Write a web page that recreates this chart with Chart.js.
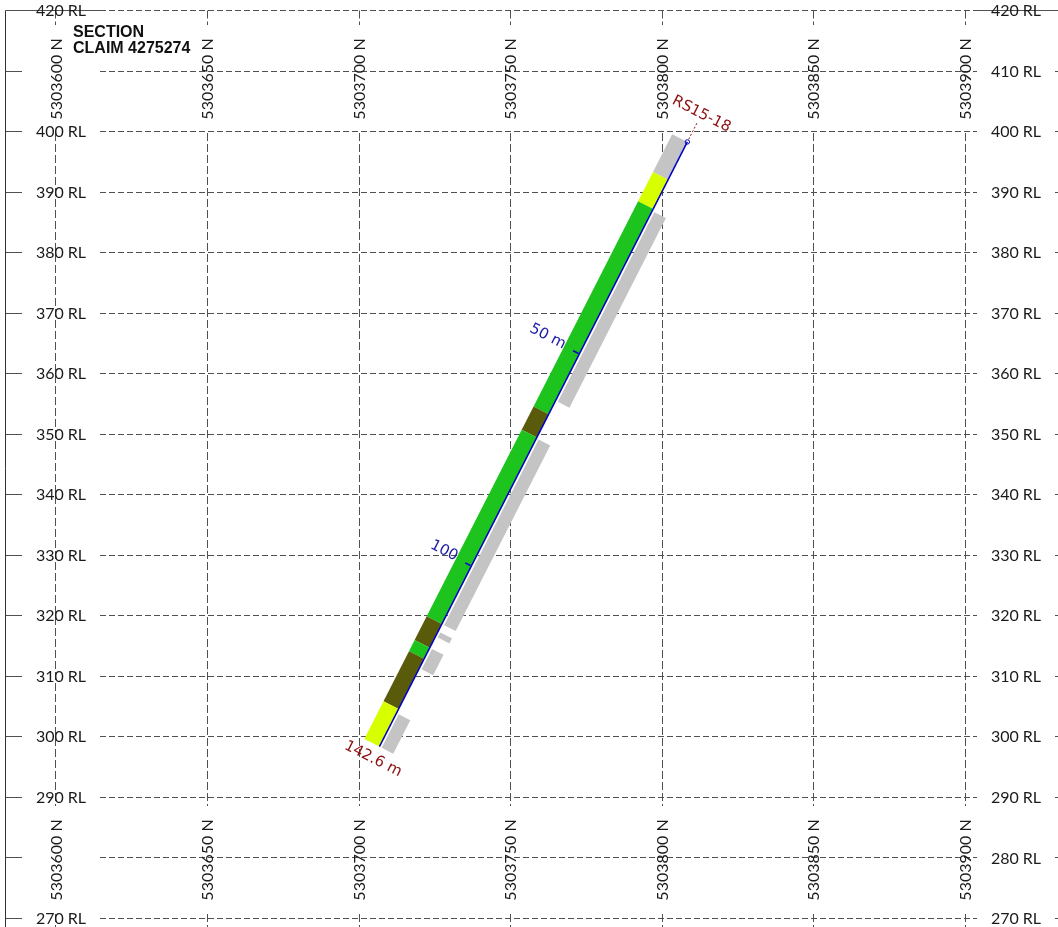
<!DOCTYPE html>
<html>
<head>
<meta charset="utf-8">
<script src="https://cdn.jsdelivr.net/npm/chart.js@4.4.0/dist/chart.umd.min.js"></script>
<style>
  html, body { margin: 0; padding: 0; background: #ffffff; }
  #wrap { width: 1058px; height: 927px; position: relative; }
</style>
</head>
<body>
<div id="wrap"><canvas id="c"></canvas></div>
<script>
// ---------------- DATA ----------------
const northingTicks = [5303600, 5303650, 5303700, 5303750, 5303800, 5303850, 5303900];
const rlTicks = [420, 410, 400, 390, 380, 370, 360, 350, 340, 330, 320, 310, 300, 290, 280, 270];
const titleLines = ['SECTION', 'CLAIM 4275274'];

const holeId = 'RS15-18';
const holeLength = 142.6;          // metres along hole
const collarNorth = 5303808.5;
const collarRL = 398.2;
const endNorth = 5303706.9;
const endRL = 298.3;

// lithology column (depth from / to, m)
const lithFrom = [0, 8.9, 15.8, 64.2, 69.7, 113.7, 119.3, 121.9, 133.7];
const lithTo   = [8.9, 15.8, 64.2, 69.7, 113.7, 119.3, 121.9, 133.7, 142.6];
const lithCode = ['NC', 'YL', 'GN', 'BR', 'GN', 'BR', 'GN', 'BR', 'YL'];

// sampled intervals (depth from / to, m)
const sampleFrom = [16.3, 69.9, 115.4, 119.3, 134.7];
const sampleTo   = [61.0, 113.7, 116.6, 124.1, 142.6];

// depth markers
const depthMarks = [50, 100];
const depthMarkLabels = ['50 m', '100'];

// ---------------- STYLES ----------------
const lithColors = { NC: '#c4c4c4', YL: '#d8ff00', GN: '#1dc41d', BR: '#5a5a0b' };
const sampleColor = '#c4c4c4';
const GRID = '#505050';
const TEXT = '#1a1a1a';
const TRACE = '#0000c8';
const MARK = '#1a1aa8';
const HOLE_TXT = '#8c1010';
const AXIS_FONT = '16px Lato, "Liberation Sans", sans-serif';
const HOLE_FONT = '15px "DejaVu Sans", sans-serif';
const TITLE_FONT = 'bold 16px "Liberation Sans", Arial, sans-serif';

const FRAME_L = 5.5;
const RL_L = 61, RL_R = 1016, RL_GAP = 39;
const N_TOP = 79, N_BOT = 860, N_GAP = 54;
const COL_IN = -17, COL_OUT = 0;
const BAR_IN = 2.5, BAR_OUT = 15.5;

function seg(c, x1, y1, x2, y2) { c.beginPath(); c.moveTo(x1, y1); c.lineTo(x2, y2); c.stroke(); }

function holeGeom(chart) {
  const xs = chart.scales.x, ys = chart.scales.y;
  const a = { x: xs.getPixelForValue(collarNorth), y: ys.getPixelForValue(collarRL) };
  const b = { x: xs.getPixelForValue(endNorth), y: ys.getPixelForValue(endRL) };
  const len = Math.hypot(b.x - a.x, b.y - a.y);
  const d = { x: (b.x - a.x) / len, y: (b.y - a.y) / len };
  const nr = { x: d.y, y: -d.x };
  const at = (m, off, along) => {
    const s = len * m / holeLength + (along || 0);
    return { x: a.x + d.x * s + nr.x * off, y: a.y + d.y * s + nr.y * off };
  };
  return { a, b, d, nr, at, angle: Math.atan2(nr.y, nr.x) };
}

function quad(c, g, m1, m2, o1, o2, color) {
  const p = [g.at(m1, o1), g.at(m1, o2), g.at(m2, o2), g.at(m2, o1)];
  c.fillStyle = color;
  c.beginPath();
  c.moveTo(p[0].x, p[0].y);
  for (let i = 1; i < 4; i++) c.lineTo(p[i].x, p[i].y);
  c.closePath();
  c.fill();
}

function rotText(c, p, angle, text, align, baseline, color, font) {
  c.save();
  c.translate(p.x, p.y);
  c.rotate(angle);
  c.font = font; c.fillStyle = color;
  c.textAlign = align; c.textBaseline = baseline;
  c.fillText(text, 0, 0);
  c.restore();
}

const sectionPlugin = {
  id: 'section',
  beforeDraw(chart) {
    const c = chart.ctx;
    c.save(); c.fillStyle = '#ffffff'; c.fillRect(0, 0, chart.width, chart.height); c.restore();
  },
  beforeDatasetsDraw(chart) {
    const c = chart.ctx, xs = chart.scales.x, ys = chart.scales.y;
    const W = chart.width, H = chart.height;
    const yTop = Math.round(ys.getPixelForValue(rlTicks[0])) + 0.5;
    c.save();
    c.strokeStyle = GRID; c.lineWidth = 1;
    // vertical grid lines (gapped at the northing labels)
    c.setLineDash([8, 3]);
    northingTicks.forEach(n => {
      const x = Math.round(xs.getPixelForValue(n)) + 0.5;
      seg(c, x, yTop, x, N_TOP - N_GAP);
      seg(c, x, N_TOP + N_GAP, x, N_BOT - N_GAP);
      seg(c, x, N_BOT + N_GAP, x, H);
    });
    // horizontal grid lines (gapped at the RL labels)
    rlTicks.forEach((rl, i) => {
      const y = Math.round(ys.getPixelForValue(rl)) + 0.5;
      c.setLineDash([]);
      seg(c, FRAME_L, y, RL_L - RL_GAP, y);
      seg(c, RL_R + RL_GAP, y, W, y);
      if (i === 0) {
        seg(c, RL_L - RL_GAP, y, RL_L + RL_GAP, y);
        seg(c, RL_R - RL_GAP, y, RL_R + RL_GAP, y);
      }
      c.setLineDash([6, 3]);
      seg(c, RL_L + RL_GAP, y, RL_R - RL_GAP, y);
    });
    // frame
    c.setLineDash([]);
    c.strokeStyle = '#333333';
    seg(c, FRAME_L, yTop, FRAME_L, H);
    // RL labels (left ones yield to the northing labels)
    c.font = AXIS_FONT; c.fillStyle = TEXT; c.textAlign = 'center'; c.textBaseline = 'middle';
    rlTicks.forEach(rl => {
      const y = ys.getPixelForValue(rl) + 1;
      const clash = Math.abs(y - N_TOP) < 30 || Math.abs(y - N_BOT) < 30;
      if (!clash) c.fillText(rl + ' RL', RL_L, y);
      c.fillText(rl + ' RL', RL_R, y);
    });
    // northing labels
    northingTicks.forEach(n => {
      const x = xs.getPixelForValue(n) + 1;
      [N_TOP, N_BOT].forEach(yy => {
        c.save(); c.translate(x, yy); c.rotate(-Math.PI / 2);
        c.font = AXIS_FONT; c.fillStyle = TEXT; c.textAlign = 'center'; c.textBaseline = 'middle';
        c.fillText(n + ' N', 0, 0);
        c.restore();
      });
    });
    // title
    c.font = TITLE_FONT; c.fillStyle = '#111111'; c.textAlign = 'left'; c.textBaseline = 'alphabetic';
    c.fillText(titleLines[0], 73, 37);
    c.fillText(titleLines[1], 73, 53);

    // drill hole: lithology column and sampled intervals
    const g = holeGeom(chart);
    for (let i = 0; i < lithFrom.length; i++) {
      quad(c, g, lithFrom[i], lithTo[i], COL_IN, COL_OUT, lithColors[lithCode[i]]);
    }
    for (let i = 0; i < sampleFrom.length; i++) {
      quad(c, g, sampleFrom[i], sampleTo[i], BAR_IN, BAR_OUT, sampleColor);
    }
    c.restore();
  },
  afterDatasetsDraw(chart) {
    const c = chart.ctx;
    const g = holeGeom(chart);
    c.save();
    // depth ticks and labels
    c.strokeStyle = TRACE; c.lineWidth = 1.5;
    depthMarks.forEach((m, i) => {
      const p0 = g.at(m, -1), p1 = g.at(m, -7);
      seg(c, p0.x, p0.y, p1.x, p1.y);
      rotText(c, g.at(m, -17, -1), g.angle, depthMarkLabels[i], 'right', 'middle', MARK, HOLE_FONT);
    });
    // collar leader + hole id
    c.strokeStyle = HOLE_TXT; c.lineWidth = 1; c.setLineDash([2, 2]);
    const l1 = g.at(0, 0, -3), l2 = g.at(0, 0, -21);
    seg(c, l1.x, l1.y, l2.x, l2.y);
    c.setLineDash([]);
    rotText(c, g.at(0, 0, -31), g.angle, holeId, 'center', 'middle', HOLE_TXT, HOLE_FONT);
    // end-of-hole depth
    rotText(c, g.at(holeLength, 0, 14), g.angle, holeLength + ' m', 'center', 'middle', HOLE_TXT, HOLE_FONT);
    c.restore();
  }
};

new Chart(document.getElementById('c'), {
  type: 'scatter',
  data: {
    datasets: [
      {
        label: 'Trace ' + holeId,
        data: [{ x: collarNorth, y: collarRL }, { x: endNorth, y: endRL }],
        showLine: true, borderColor: TRACE, borderWidth: 1.5,
        pointRadius: 0, pointHoverRadius: 0, fill: false, clip: false
      },
      {
        label: 'Collar',
        data: [{ x: collarNorth, y: collarRL }],
        pointRadius: 2.2, pointHoverRadius: 2.2, pointBorderWidth: 1, clip: false,
        pointBorderColor: TRACE, pointBackgroundColor: 'rgba(255,255,255,0)'
      }
    ]
  },
  options: {
    responsive: true, maintainAspectRatio: false, animation: false,
    layout: { padding: 0, autoPadding: false },
    events: [],
    plugins: { legend: { display: false }, tooltip: { enabled: false }, title: { display: false } },
    scales: {
      x: { type: 'linear', display: false, min: 5303581.7, max: 5303930.8 },
      y: { type: 'linear', display: false, min: 268.5, max: 421.65 }
    }
  },
  plugins: [sectionPlugin]
});
</script>
</body>
</html>
